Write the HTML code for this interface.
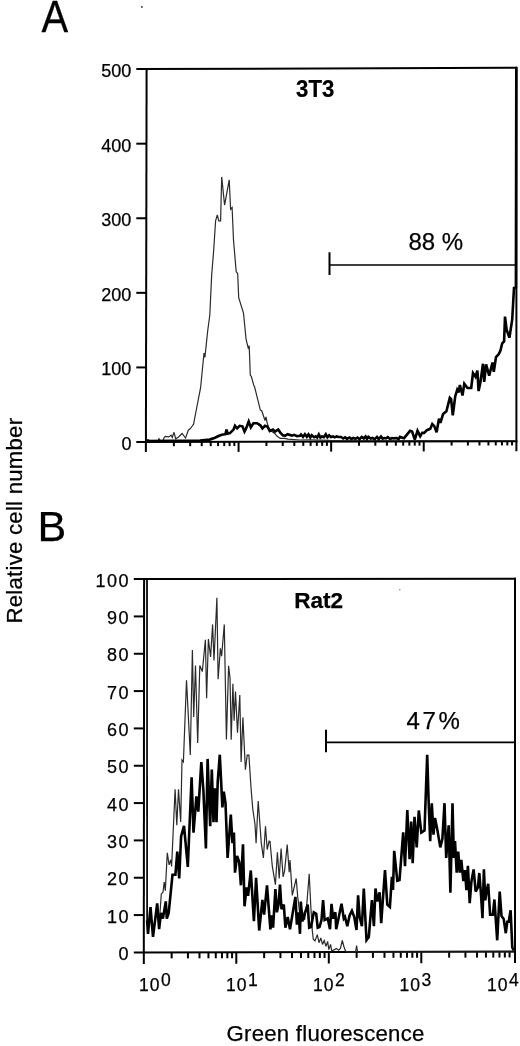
<!DOCTYPE html>
<html><head><meta charset="utf-8"><title>Flow cytometry histograms</title>
<style>
html,body{margin:0;padding:0;background:#fff;}
body{width:520px;height:1046px;overflow:hidden;}
svg{display:block;}
text{font-family:"Liberation Sans",Arial,Helvetica,sans-serif;fill:#000;stroke:#000;stroke-width:0.25px;}
.ax{stroke:#000;stroke-width:2;fill:none;stroke-linecap:butt;stroke-linejoin:miter;}
.thin{stroke:#2a2a2a;stroke-width:1.2;fill:none;stroke-linejoin:miter;stroke-miterlimit:3;}
.thick{stroke:#000;stroke-width:2.6;fill:none;stroke-linejoin:miter;stroke-miterlimit:3;}
.gate{stroke:#000;stroke-width:2;fill:none;}
.gateh{stroke:#000;stroke-width:1.7;}
.yl{font-size:18px;text-anchor:end;}
.xl{font-size:17.5px;}
.pl{font-size:43px;}
.cl{font-size:22.5px;font-weight:bold;}
.pc{font-size:24px;}
.gl{font-size:22.2px;}
</style></head>
<body>
<svg width="520" height="1046" viewBox="0 0 520 1046">
<line x1="146.60" y1="69.10" x2="145.90" y2="452.08" class="ax"/>
<line x1="136.30" y1="69.10" x2="517.40" y2="67.80" class="ax"/>
<line x1="516.40" y1="66.80" x2="516.40" y2="451.20" class="ax"/>
<line x1="136.30" y1="442.10" x2="517.40" y2="441.20" class="ax"/>
<line x1="136.30" y1="367.42" x2="146.05" y2="367.42" class="ax"/>
<line x1="136.30" y1="292.84" x2="146.19" y2="292.84" class="ax"/>
<line x1="136.30" y1="218.26" x2="146.33" y2="218.26" class="ax"/>
<line x1="136.30" y1="143.68" x2="146.46" y2="143.68" class="ax"/>
<line x1="173.87" y1="442.01" x2="173.87" y2="446.21" class="ax"/>
<line x1="190.17" y1="441.97" x2="190.17" y2="446.17" class="ax"/>
<line x1="201.74" y1="441.94" x2="201.74" y2="446.14" class="ax"/>
<line x1="210.71" y1="441.92" x2="210.71" y2="446.12" class="ax"/>
<line x1="218.04" y1="441.91" x2="218.04" y2="446.11" class="ax"/>
<line x1="224.23" y1="441.89" x2="224.23" y2="446.09" class="ax"/>
<line x1="229.60" y1="441.88" x2="229.60" y2="446.08" class="ax"/>
<line x1="234.34" y1="441.87" x2="234.34" y2="446.07" class="ax"/>
<line x1="238.57" y1="441.86" x2="238.57" y2="451.86" class="ax"/>
<line x1="266.44" y1="441.79" x2="266.44" y2="445.99" class="ax"/>
<line x1="282.74" y1="441.75" x2="282.74" y2="445.95" class="ax"/>
<line x1="294.31" y1="441.73" x2="294.31" y2="445.93" class="ax"/>
<line x1="303.28" y1="441.70" x2="303.28" y2="445.90" class="ax"/>
<line x1="310.61" y1="441.69" x2="310.61" y2="445.89" class="ax"/>
<line x1="316.81" y1="441.67" x2="316.81" y2="445.87" class="ax"/>
<line x1="322.18" y1="441.66" x2="322.18" y2="445.86" class="ax"/>
<line x1="326.91" y1="441.65" x2="326.91" y2="445.85" class="ax"/>
<line x1="331.15" y1="441.64" x2="331.15" y2="451.64" class="ax"/>
<line x1="359.02" y1="441.57" x2="359.02" y2="445.77" class="ax"/>
<line x1="375.32" y1="441.53" x2="375.32" y2="445.73" class="ax"/>
<line x1="386.89" y1="441.51" x2="386.89" y2="445.71" class="ax"/>
<line x1="395.86" y1="441.49" x2="395.86" y2="445.69" class="ax"/>
<line x1="403.19" y1="441.47" x2="403.19" y2="445.67" class="ax"/>
<line x1="409.38" y1="441.45" x2="409.38" y2="445.65" class="ax"/>
<line x1="414.75" y1="441.44" x2="414.75" y2="445.64" class="ax"/>
<line x1="419.49" y1="441.43" x2="419.49" y2="445.63" class="ax"/>
<line x1="423.72" y1="441.42" x2="423.72" y2="451.42" class="ax"/>
<line x1="451.59" y1="441.35" x2="451.59" y2="445.55" class="ax"/>
<line x1="467.89" y1="441.32" x2="467.89" y2="445.52" class="ax"/>
<line x1="479.46" y1="441.29" x2="479.46" y2="445.49" class="ax"/>
<line x1="488.43" y1="441.27" x2="488.43" y2="445.47" class="ax"/>
<line x1="495.76" y1="441.25" x2="495.76" y2="445.45" class="ax"/>
<line x1="501.96" y1="441.24" x2="501.96" y2="445.44" class="ax"/>
<line x1="507.33" y1="441.22" x2="507.33" y2="445.42" class="ax"/>
<line x1="512.06" y1="441.21" x2="512.06" y2="445.41" class="ax"/>
<polyline points="146.5,441.0 148.0,439.5 150.0,441.0 158.0,441.0 159.0,438.8 160.5,441.0 163.0,440.5 164.2,437.5 165.3,436.3 168.8,436.9 171.1,435.2 172.3,437.5 174.0,432.3 175.7,438.7 178.6,436.9 182.1,433.5 185.5,438.1 188.4,430.0 190.2,428.8 191.9,426.5 193.6,424.2 195.5,414.0 200.6,387.7 204.0,353.0 204.9,357.4 207.8,330.0 209.8,315.0 211.7,274.6 213.7,250.0 215.6,220.8 217.3,214.8 218.8,220.8 220.6,220.8 221.7,176.9 224.6,205.2 229.2,179.8 230.6,209.2 232.1,207.5 233.5,240.0 236.2,271.7 237.7,273.7 238.7,297.7 243.5,313.0 246.1,339.5 248.2,347.9 249.2,345.8 250.3,375.3 251.3,376.3 253.9,385.8 254.5,386.5 260.3,410.0 261.8,411.0 265.0,420.5 266.0,416.8 267.1,422.6 268.7,427.9 271.3,431.0 275.0,433.7 277.1,436.3 280.3,438.4 284.5,438.4 288.0,439.2 300.0,440.0 310.0,439.8 330.0,440.3 516.0,440.5" class="thin"/>
<polyline points="146.5,441.0 200.0,440.6 209.6,439.6 215.0,437.7 218.5,436.0 221.9,434.8 225.4,434.2 226.5,429.6 227.7,433.7 230.0,433.1 233.5,429.6 235.0,425.8 237.1,428.4 239.7,425.8 242.4,426.3 244.5,431.6 246.1,428.4 248.7,421.6 250.8,427.4 253.4,423.2 257.1,423.2 260.3,425.3 262.4,428.4 265.0,425.8 267.6,426.8 269.7,431.1 272.9,429.5 275.0,431.6 278.2,429.5 280.3,432.6 282.9,435.3 285.0,435.8 287.5,434.2 292.0,435.6 294.2,434.8 297.0,436.2 300.0,435.8 301.0,434.5 303.0,436.9 304.9,434.3 306.8,436.8 308.5,434.4 310.3,437.5 311.7,435.3 314.1,437.3 315.8,436.4 317.2,437.5 318.8,434.4 320.4,437.5 321.9,436.4 323.9,437.1 325.8,434.3 327.4,437.3 329.1,435.3 330.9,437.0 333.1,436.4 334.7,437.3 336.6,436.4 338.7,437.0 341.0,437.0 343.2,438.5 345.0,437.4 347.1,438.9 349.4,437.5 351.4,438.9 353.2,438.0 355.5,438.8 357.5,437.5 359.5,439.2 361.7,436.9 363.8,438.4 365.6,436.4 367.0,439.0 368.4,436.9 370.7,438.5 372.5,438.0 374.7,439.1 377.0,436.9 378.7,439.1 381.0,436.5 382.6,438.6 384.4,438.0 386.0,438.4 387.8,437.2 390.1,439.0 392.0,438.0 394.0,438.4 396.3,438.0 398.6,439.0 400.0,436.9 404.0,438.3 406.1,435.6 410.1,430.8 412.1,431.5 414.8,439.6 417.5,430.8 420.2,436.2 422.2,432.9 424.2,432.9 426.9,430.2 430.3,428.8 432.3,424.1 434.3,426.1 436.6,432.2 439.0,418.7 440.4,422.8 443.1,414.0 446.4,411.3 449.8,397.9 451.1,399.2 452.8,415.4 455.2,396.5 457.2,389.8 458.5,392.5 459.9,385.1 462.5,395.5 464.3,383.7 467.5,388.0 471.2,388.0 473.0,373.1 475.5,376.8 477.4,370.6 478.6,391.1 480.5,381.8 483.0,363.8 484.2,381.8 486.1,364.4 489.2,375.6 492.5,362.5 493.8,371.9 496.0,357.0 498.5,354.5 500.4,350.7 502.2,343.3 504.1,341.4 505.0,316.6 506.6,329.6 509.4,337.7 512.2,319.7 514.0,288.0 515.9,287.4 516.3,68.5" class="thick"/>
<polyline points="329.5,252.3 329.5,275" class="gate"/><line x1="329.5" y1="265" x2="516" y2="265" class="gateh"/>
<line x1="144.10" y1="579.10" x2="143.80" y2="963.97" class="ax"/>
<line x1="133.80" y1="579.10" x2="516.00" y2="578.70" class="ax"/>
<line x1="515.00" y1="577.70" x2="515.00" y2="963.00" class="ax"/>
<line x1="133.80" y1="952.50" x2="516.00" y2="951.50" class="ax"/>
<line x1="133.80" y1="915.07" x2="143.84" y2="915.07" class="ax"/>
<line x1="133.80" y1="877.74" x2="143.87" y2="877.74" class="ax"/>
<line x1="133.80" y1="840.41" x2="143.90" y2="840.41" class="ax"/>
<line x1="133.80" y1="803.08" x2="143.93" y2="803.08" class="ax"/>
<line x1="133.80" y1="765.75" x2="143.95" y2="765.75" class="ax"/>
<line x1="133.80" y1="728.42" x2="143.98" y2="728.42" class="ax"/>
<line x1="133.80" y1="691.09" x2="144.01" y2="691.09" class="ax"/>
<line x1="133.80" y1="653.76" x2="144.04" y2="653.76" class="ax"/>
<line x1="133.80" y1="616.43" x2="144.07" y2="616.43" class="ax"/>
<line x1="171.65" y1="952.40" x2="171.65" y2="958.40" class="ax"/>
<line x1="187.93" y1="952.36" x2="187.93" y2="958.36" class="ax"/>
<line x1="199.49" y1="952.33" x2="199.49" y2="958.33" class="ax"/>
<line x1="208.45" y1="952.30" x2="208.45" y2="958.30" class="ax"/>
<line x1="215.78" y1="952.28" x2="215.78" y2="958.28" class="ax"/>
<line x1="221.97" y1="952.27" x2="221.97" y2="958.27" class="ax"/>
<line x1="227.34" y1="952.25" x2="227.34" y2="958.25" class="ax"/>
<line x1="232.07" y1="952.24" x2="232.07" y2="958.24" class="ax"/>
<line x1="236.30" y1="952.23" x2="236.30" y2="963.73" class="ax"/>
<line x1="264.15" y1="952.16" x2="264.15" y2="958.16" class="ax"/>
<line x1="280.43" y1="952.11" x2="280.43" y2="958.11" class="ax"/>
<line x1="291.99" y1="952.08" x2="291.99" y2="958.08" class="ax"/>
<line x1="300.95" y1="952.06" x2="300.95" y2="958.06" class="ax"/>
<line x1="308.28" y1="952.04" x2="308.28" y2="958.04" class="ax"/>
<line x1="314.47" y1="952.02" x2="314.47" y2="958.02" class="ax"/>
<line x1="319.84" y1="952.01" x2="319.84" y2="958.01" class="ax"/>
<line x1="324.57" y1="952.00" x2="324.57" y2="958.00" class="ax"/>
<line x1="328.80" y1="951.99" x2="328.80" y2="963.49" class="ax"/>
<line x1="356.65" y1="951.91" x2="356.65" y2="957.91" class="ax"/>
<line x1="372.93" y1="951.87" x2="372.93" y2="957.87" class="ax"/>
<line x1="384.49" y1="951.84" x2="384.49" y2="957.84" class="ax"/>
<line x1="393.45" y1="951.82" x2="393.45" y2="957.82" class="ax"/>
<line x1="400.78" y1="951.80" x2="400.78" y2="957.80" class="ax"/>
<line x1="406.97" y1="951.78" x2="406.97" y2="957.78" class="ax"/>
<line x1="412.34" y1="951.77" x2="412.34" y2="957.77" class="ax"/>
<line x1="417.07" y1="951.76" x2="417.07" y2="957.76" class="ax"/>
<line x1="421.30" y1="951.75" x2="421.30" y2="963.25" class="ax"/>
<line x1="449.15" y1="951.67" x2="449.15" y2="957.67" class="ax"/>
<line x1="465.43" y1="951.63" x2="465.43" y2="957.63" class="ax"/>
<line x1="476.99" y1="951.60" x2="476.99" y2="957.60" class="ax"/>
<line x1="485.95" y1="951.58" x2="485.95" y2="957.58" class="ax"/>
<line x1="493.28" y1="951.56" x2="493.28" y2="957.56" class="ax"/>
<line x1="499.47" y1="951.54" x2="499.47" y2="957.54" class="ax"/>
<line x1="504.84" y1="951.53" x2="504.84" y2="957.53" class="ax"/>
<line x1="509.57" y1="951.51" x2="509.57" y2="957.51" class="ax"/>
<line x1="147.0" y1="579.5" x2="147.1" y2="921" stroke="#000" stroke-width="1.7"/>
<polyline points="147.1,920.0 148.0,930.0 150.5,912.0 153.0,934.0 155.3,918.0 157.2,905.0 159.1,925.0 161.3,894.0 163.0,892.3 164.2,882.0 165.3,890.6 167.3,852.8 169.1,864.8 170.8,859.7 171.6,866.5 175.1,789.2 176.8,825.3 178.5,789.2 180.7,821.9 182.0,760.0 183.4,761.8 186.5,680.2 190.3,755.0 192.4,650.1 193.7,717.1 195.5,665.6 197.7,742.9 199.8,665.6 202.3,671.6 205.4,639.8 206.6,698.2 208.4,639.0 210.6,657.0 212.6,624.4 214.0,660.4 216.9,597.7 218.1,679.3 220.4,648.4 221.6,656.2 224.3,624.4 226.4,739.5 228.6,665.8 230.0,677.8 231.2,739.7 232.9,683.8 234.1,720.8 235.5,691.6 237.5,732.8 239.8,695.0 241.1,762.1 242.9,717.4 245.4,769.8 247.2,755.2 248.9,755.2 250.9,786.1 252.7,808.5 255.0,824.2 256.1,843.2 258.2,801.0 261.3,843.2 263.4,857.9 265.5,826.3 267.2,849.5 269.1,841.1 270.0,841.5 272.3,866.2 275.4,884.6 277.4,852.3 279.2,878.5 281.1,848.5 283.1,876.9 284.6,870.8 287.2,844.6 289.2,872.3 290.0,860.0 292.3,895.4 296.2,878.5 297.7,896.9 300.0,915.4 302.3,910.8 304.6,920.0 306.9,903.1 309.2,873.8 310.8,906.2 312.3,930.8 313.3,939.2 315.0,941.0 317.3,934.6 319.0,942.7 320.8,938.0 322.5,944.4 324.2,940.4 326.0,946.2 327.7,941.5 328.8,949.6 330.6,944.4 331.7,950.8 334.6,949.6 336.3,948.5 338.7,950.2 340.4,948.5 342.3,940.5 343.8,946.2 345.4,950.8 347.0,952.0 355.6,952.0 356.6,945.5 357.6,952.0 514.0,952.0" class="thin"/>
<polyline points="147.1,920.5 148.0,933.9 150.5,907.1 153.0,936.8 155.3,918.6 157.2,903.3 159.1,929.1 161.0,912.9 162.9,918.6 165.8,901.4 166.8,918.6 168.7,912.9 172.5,874.7 175.4,874.7 177.3,851.7 179.2,878.5 181.1,836.4 184.0,825.9 187.8,867.0 191.6,777.2 193.5,832.6 196.4,796.3 198.3,811.6 201.3,762.1 203.4,790.5 205.9,848.4 207.6,758.9 210.2,826.3 211.8,769.5 213.5,822.1 215.0,788.4 216.5,822.1 217.7,782.1 219.8,754.7 222.4,807.4 223.8,791.6 225.5,803.2 227.6,857.9 230.8,814.7 232.5,843.2 233.9,832.6 235.0,872.6 237.1,855.8 239.2,862.1 240.9,885.3 243.0,844.2 244.5,906.3 246.6,887.4 248.1,895.8 250.8,870.5 253.9,921.1 256.1,877.9 259.2,930.5 262.4,900.0 264.1,914.7 267.0,885.3 270.4,929.5 271.5,915.4 273.1,927.7 275.4,889.2 276.9,912.3 278.5,904.6 280.0,884.6 281.5,909.2 283.8,904.6 285.4,927.7 287.7,916.9 290.0,929.2 292.3,915.4 295.4,896.9 296.9,924.6 298.5,912.3 300.0,933.8 300.8,901.5 302.3,921.5 304.6,913.8 307.7,904.6 309.2,927.7 311.0,927.0 313.8,912.3 316.2,913.8 317.7,927.7 319.5,927.0 321.5,920.0 323.1,900.0 324.6,920.0 327.7,918.5 330.0,929.2 331.5,903.8 333.1,918.5 335.4,912.3 336.2,929.2 338.5,918.5 341.5,903.8 343.8,918.5 345.0,916.9 347.3,926.2 349.6,915.4 351.9,910.8 354.2,916.9 356.5,930.0 358.1,895.4 359.6,916.9 361.9,926.2 363.8,888.5 366.5,940.0 368.8,936.9 371.9,900.0 373.9,926.2 375.5,888.5 377.3,901.5 379.6,892.3 381.2,923.1 385.0,870.0 387.3,904.6 389.9,906.9 391.9,876.9 393.0,890.0 394.2,850.8 397.3,880.8 399.5,880.0 403.2,832.3 405.0,866.2 407.3,810.0 409.6,859.2 411.2,821.5 412.7,863.1 414.5,816.9 416.7,847.4 418.8,810.5 421.3,832.6 424.5,830.5 427.2,754.7 428.7,803.2 430.2,841.1 431.8,803.2 433.5,834.7 435.0,817.9 437.1,828.4 440.3,847.4 442.4,838.9 444.5,803.2 446.2,857.9 448.7,825.3 450.4,892.6 452.5,803.2 453.9,857.9 455.0,841.1 456.7,872.6 458.2,851.6 459.8,872.6 461.3,860.0 463.4,881.1 465.0,870.1 466.4,890.2 467.9,865.8 469.7,903.1 471.4,881.6 473.6,869.4 475.7,891.6 477.9,887.3 479.3,873.0 480.8,891.6 482.5,918.1 483.9,869.4 485.3,900.2 486.5,891.6 488.2,883.8 490.1,914.6 492.9,914.6 494.4,899.5 497.2,940.3 499.7,891.6 501.5,916.0 503.7,918.9 505.8,933.2 507.3,921.7 508.7,921.7 510.6,910.3 512.3,947.5 513.7,950.4" class="thick"/>
<polyline points="326,729.8 326,752.3" class="gate"/><line x1="326" y1="742.3" x2="514" y2="742.3" class="gateh"/>
<text x="131.4" y="450.0" class="yl">0</text>
<text x="131.4" y="375.4" class="yl">100</text>
<text x="131.4" y="300.8" class="yl">200</text>
<text x="131.4" y="226.3" class="yl">300</text>
<text x="131.4" y="151.7" class="yl">400</text>
<text x="131.4" y="77.1" class="yl">500</text>
<text x="130" y="959.9" class="yl" letter-spacing="1.5">0</text>
<text x="130" y="922.6" class="yl" letter-spacing="1.5">10</text>
<text x="130" y="885.2" class="yl" letter-spacing="1.5">20</text>
<text x="130" y="847.9" class="yl" letter-spacing="1.5">30</text>
<text x="130" y="810.6" class="yl" letter-spacing="1.5">40</text>
<text x="130" y="773.2" class="yl" letter-spacing="1.5">50</text>
<text x="130" y="735.9" class="yl" letter-spacing="1.5">60</text>
<text x="130" y="698.6" class="yl" letter-spacing="1.5">70</text>
<text x="130" y="661.3" class="yl" letter-spacing="1.5">80</text>
<text x="130" y="623.9" class="yl" letter-spacing="1.5">90</text>
<text x="130" y="586.6" class="yl" letter-spacing="1.5">100</text>
<text x="139.0" y="990.8" class="xl">1<tspan dx="1">0</tspan><tspan dx="1.5" dy="-5">0</tspan></text>
<text x="226.1" y="990.8" class="xl">1<tspan dx="1">0</tspan><tspan dx="1.5" dy="-5">1</tspan></text>
<text x="313.1" y="990.8" class="xl">1<tspan dx="1">0</tspan><tspan dx="1.5" dy="-5">2</tspan></text>
<text x="399.6" y="990.8" class="xl">1<tspan dx="1">0</tspan><tspan dx="1.5" dy="-5">3</tspan></text>
<text x="487.1" y="990.8" class="xl">1<tspan dx="1">0</tspan><tspan dx="1.5" dy="-5">4</tspan></text>
<text transform="translate(42.6,31.7) scale(0.92,1)" x="-1.3" y="0" class="pl" style="font-size:43.5px">A</text>
<text x="37.5" y="541" class="pl">B</text>
<text transform="translate(297,96.7) scale(0.94,1)" x="-1" y="0" class="cl" style="font-size:23.6px">3T3</text>
<text x="294.2" y="608.2" class="cl">Rat2</text>
<text x="408.5" y="249.5" class="pc">88 %</text>
<text x="406.5" y="729" class="pc" letter-spacing="2.6">47%</text>
<text x="226.5" y="1041" class="gl" letter-spacing="0.25">Green fluorescence</text>
<text transform="translate(22.3,623.5) rotate(-90)" class="gl" letter-spacing="0.24">Relative cell number</text>
<circle cx="141.9" cy="6.9" r="0.9" fill="#222"/><circle cx="399.8" cy="589.8" r="0.7" fill="#777"/>
</svg>
</body></html>
